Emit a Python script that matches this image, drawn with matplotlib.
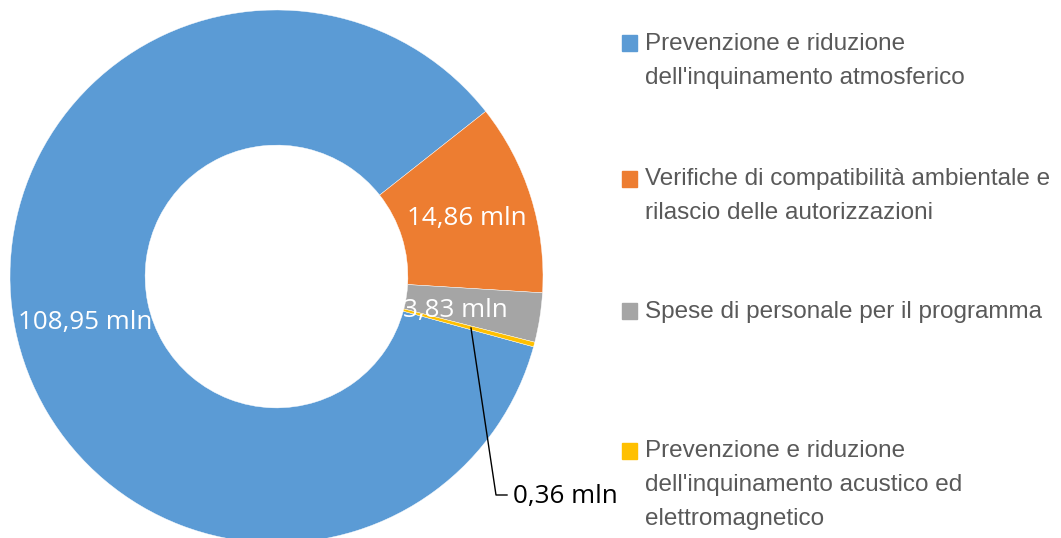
import matplotlib.pyplot as plt
from matplotlib.patches import Rectangle

categories = [
    "Prevenzione e riduzione\ndell'inquinamento atmosferico",
    "Verifiche di compatibilità ambientale e\nrilascio delle autorizzazioni",
    "Spese di personale per il programma",
    "Prevenzione e riduzione\ndell'inquinamento acustico ed\nelettromagnetico",
]
values = [108.95, 14.86, 3.83, 0.36]
value_labels = ["108,95 mln", "14,86 mln", "3,83 mln", "0,36 mln"]
colors = ["#5B9BD5", "#ED7D31", "#A5A5A5", "#FFC000"]

legend_font = "Liberation Sans"
label_font = "Open Sans"

W, H = 1061, 538
fig = plt.figure(figsize=(W / 100, H / 100), dpi=100)

# pie axes: centre (276.5, 276.5) px, radius 266.5 px
cx, cy, R = 276.5, 276.5, 266.5
ax = fig.add_axes([(cx - R) / W, (H - cy - R) / H, 2 * R / W, 2 * R / H])

wedges, _ = ax.pie(values, colors=colors, startangle=-15.3, counterclock=False,
                   radius=1, wedgeprops=dict(width=0.507, edgecolor="white", linewidth=0.3))
ax.set_xlim(-1, 1)
ax.set_ylim(-1, 1)
ax.set_aspect("equal")
ax.axis("off")


def px(x, y):
    return ((x - cx) / R, (cy - y) / R)


# data labels
label_pos = [(85, 322), (467, 218), (455, 311)]
for lab, (x, y) in zip(value_labels[:3], label_pos):
    ax.text(*px(x, y), lab, color="white", fontsize=18.7, family=label_font,
            ha="center", va="center")

# leader line for the small slice
lx, ly = zip(px(471, 328), px(496, 495), px(507, 495))
ax.plot(lx, ly, color="black", lw=1, clip_on=False)
ax.text(*px(513, 497), value_labels[3], color="black", fontsize=18.7,
        family=label_font, ha="left", va="center", clip_on=False)

# legend
text_top = [33, 168, 301, 440]
square_top = [35, 171, 303, 443]
for cat, col, ty, sy in zip(categories, colors, text_top, square_top):
    fig.patches.append(Rectangle((622 / W, 1 - (sy + 16) / H), 15 / W, 16 / H,
                                 transform=fig.transFigure, color=col))
    fig.text(645 / W, 1 - ty / H, cat, color="#595959", fontsize=17.5,
             family=legend_font, ha="left", va="top", linespacing=1.7)

fig.savefig("out.png", dpi=100)
